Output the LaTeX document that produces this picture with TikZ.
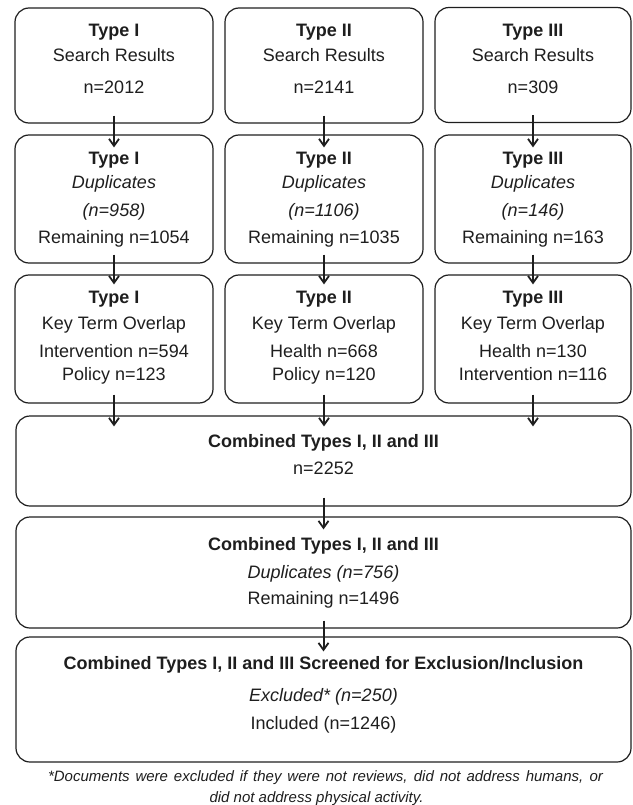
\documentclass[tikz,border=0pt]{standalone}
\usepackage{fontspec}
\setmainfont{Liberation Sans}
\usetikzlibrary{arrows.meta,calc}
\definecolor{ink}{HTML}{1E1E1E}
\begin{document}
\begin{tikzpicture}[x=1pt,y=-1pt,
  box/.style={draw=ink, line width=1.2pt, rounded corners=14pt, inner sep=0pt},
  tx/.style={font=\fontsize{18}{20}\selectfont, text=ink, anchor=base, inner sep=0pt},
  tb/.style={tx, font=\fontsize{18}{20}\selectfont\bfseries},
  ti/.style={tx, font=\fontsize{18}{20}\selectfont\itshape},
  fn/.style={font=\fontsize{15}{17}\selectfont\itshape, text=ink, anchor=base, inner sep=0pt},
  arr/.style={draw=ink, line width=2pt, -{Straight Barb[length=7pt,width=10pt,line width=1.8pt]}}]
\useasboundingbox (0,0) rectangle (632,805);

% Row 1
\node[box, minimum width=198pt, minimum height=115pt] (r1a) at (114,65.5) {};
\node[box, minimum width=198pt, minimum height=115pt] (r1b) at (324,65.5) {};
\node[box, minimum width=196pt, minimum height=115pt] (r1c) at (533,65) {};
% Row 2
\node[box, minimum width=198pt, minimum height=128pt] (r2a) at (114,199) {};
\node[box, minimum width=198pt, minimum height=128pt] (r2b) at (324,199) {};
\node[box, minimum width=196pt, minimum height=128pt] (r2c) at (533,199) {};
% Row 3
\node[box, minimum width=198pt, minimum height=128pt] (r3a) at (114,339) {};
\node[box, minimum width=198pt, minimum height=128pt] (r3b) at (324,339) {};
\node[box, minimum width=196pt, minimum height=128pt] (r3c) at (533,339) {};
% Wide boxes
\node[box, minimum width=615pt, minimum height=90pt] (b4) at (323.5,461) {};
\node[box, minimum width=615pt, minimum height=111pt] (b5) at (323.5,572.5) {};
\node[box, minimum width=615pt, minimum height=125pt] (b6) at (323.5,699.5) {};

% Row 1 texts
\foreach \c/\x/\ty/\n in {a/114/I/2012, b/324/II/2141, c/533/III/309} {
  \node[tb] (r1\c-h) at (\x,36.5) {Type \ty};
  \node[tx] (r1\c-s) at (\x,62) {Search Results};
  \node[tx] (r1\c-n) at (\x,94) {n=\n};
}
% Row 2 texts
\foreach \c/\x/\ty/\d/\r in {a/114/I/958/1054, b/324/II/1106/1035, c/533/III/146/163} {
  \node[tb] (r2\c-h) at (\x,164.5) {Type \ty};
  \node[ti] (r2\c-d) at (\x,189) {Duplicates};
  \node[ti] (r2\c-n) at (\x,216) {(n=\d)};
  \node[tx] (r2\c-r) at (\x,243) {Remaining n=\r};
}
% Row 3 texts
\node[tb] (r3a-h) at (114,303.5) {Type I};
\node[tx] (r3a-k) at (114,329) {Key Term Overlap};
\node[tx] (r3a-1) at (114,357) {Intervention n=594};
\node[tx] (r3a-2) at (114,380) {Policy n=123};
\node[tb] (r3b-h) at (324,303.5) {Type II};
\node[tx] (r3b-k) at (324,329) {Key Term Overlap};
\node[tx] (r3b-1) at (324,357) {Health n=668};
\node[tx] (r3b-2) at (324,380) {Policy n=120};
\node[tb] (r3c-h) at (533,303.5) {Type III};
\node[tx] (r3c-k) at (533,329) {Key Term Overlap};
\node[tx] (r3c-1) at (533,357) {Health n=130};
\node[tx] (r3c-2) at (533,380) {Intervention n=116};
% Box 4 texts
\node[tb] (b4-h) at (323.5,447.5) {Combined Types I, II and III};
\node[tx] (b4-n) at (323.5,474) {n=2252};
% Box 5 texts
\node[tb] (b5-h) at (323.5,550.5) {Combined Types I, II and III};
\node[ti] (b5-d) at (323.5,578) {Duplicates (n=756)};
\node[tx] (b5-r) at (323.5,604) {Remaining n=1496};
% Box 6 texts
\node[tb] (b6-h) at (323.5,669.5) {Combined Types I, II and III Screened for Exclusion/Inclusion};
\node[ti] (b6-e) at (323.5,701) {Excluded* (n=250)};
\node[tx] (b6-i) at (323.5,729) {Included (n=1246)};
% Footnote (justified first line, centred last line)
\node[fn] (fn1) at (325.5,781.5) {\makebox[555pt][s]{*Documents were excluded if they were not reviews, did not address humans, or}};
\node[fn] (fn2) at (316.5,802) {did not address physical activity.};

% Arrows
\foreach \c in {a,b,c} {
  \draw[arr] ([yshift=8pt]r1\c.south) -- ([yshift=-13pt]r2\c.north);
  \draw[arr] ([yshift=9pt]r2\c.south) -- ([yshift=-10pt]r3\c.north);
  \draw[arr] ([yshift=9pt]r3\c.south) -- ([yshift=-11pt]r3\c.south |- b4.north);
}
\draw[arr] ([yshift=9pt]b4.south) -- ([yshift=-13pt]b5.north);
\draw[arr] ([yshift=8pt]b5.south) -- ([yshift=-15pt]b6.north);
\end{tikzpicture}
\end{document}
